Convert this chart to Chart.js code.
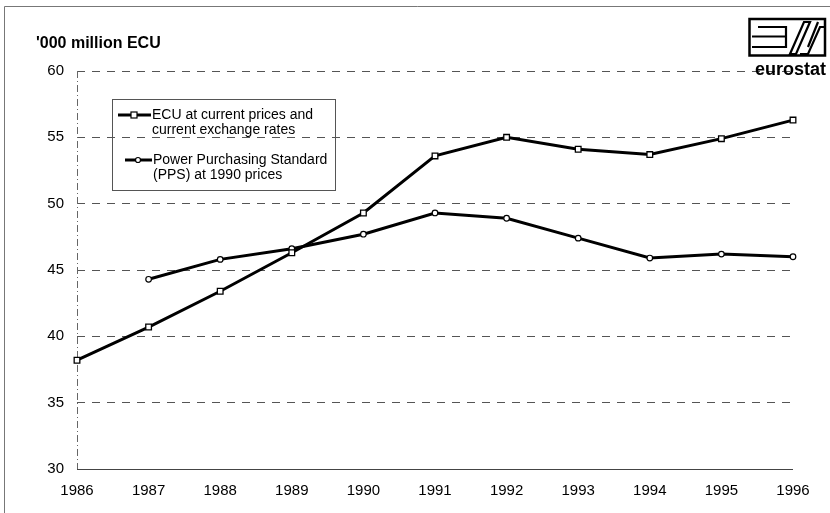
<!DOCTYPE html>
<html>
<head>
<meta charset="utf-8">
<script src="https://cdn.jsdelivr.net/npm/chart.js@4/dist/chart.umd.min.js"></script>
<style>
  html, body { margin: 0; padding: 0; background: #fff; }
  #wrap { position: relative; width: 830px; height: 513px; }
</style>
</head>
<body>
<div id="wrap"><canvas id="c" width="830" height="513"></canvas></div>
<script>
const years = ['1986','1987','1988','1989','1990','1991','1992','1993','1994','1995','1996'];
const ecuCurrent = [38.2, 40.7, 43.4, 46.3, 49.3, 53.6, 55.0, 54.1, 53.7, 54.9, 56.3];
const ppsConstant = [null, 44.3, 45.8, 46.6, 47.7, 49.3, 48.9, 47.4, 45.9, 46.2, 46.0];
const yTicks = [30, 35, 40, 45, 50, 55, 60];
const titleText = "'000 million ECU";
const legendLabels = [
  ['ECU at current prices and', 'current exchange rates'],
  ['Power Purchasing Standard', '(PPS) at 1990 prices']
];
const logoText = 'eurostat';

const FONT = '"Liberation Sans", Arial, sans-serif';

const extras = {
  id: 'extras',
  beforeDatasetsDraw(chart) {
    const ctx = chart.ctx;
    const a = chart.chartArea;
    ctx.save();
    ctx.strokeStyle = '#666';
    ctx.lineWidth = 1;
    ctx.setLineDash([7, 3, 1, 3]);
    ctx.beginPath();
    ctx.moveTo(a.left + 0.5, a.top);
    ctx.lineTo(a.left + 0.5, a.bottom);
    ctx.stroke();
    ctx.setLineDash([]);
    ctx.strokeStyle = '#444';
    ctx.beginPath();
    ctx.moveTo(a.left, a.bottom + 0.5);
    ctx.lineTo(a.right, a.bottom + 0.5);
    ctx.stroke();
    ctx.restore();
  },
  afterDraw(chart) {
    const ctx = chart.ctx;
    ctx.save();
    // outer frame (top & left)
    ctx.strokeStyle = '#777';
    ctx.lineWidth = 1;
    ctx.beginPath();
    ctx.moveTo(4.5, 513); ctx.lineTo(4.5, 6.5); ctx.lineTo(830, 6.5);
    ctx.stroke();

    // title
    ctx.fillStyle = '#000';
    ctx.font = 'bold 16px ' + FONT;
    ctx.textBaseline = 'middle';
    ctx.textAlign = 'left';
    ctx.fillText(titleText, 36, 44);

    // legend box
    ctx.strokeStyle = '#555';
    ctx.lineWidth = 1;
    ctx.strokeRect(112.5, 99.5, 223, 91);
    ctx.font = '14px ' + FONT;
    ctx.fillStyle = '#000';
    // entry 1
    ctx.strokeStyle = '#000';
    ctx.lineWidth = 3;
    ctx.beginPath(); ctx.moveTo(118, 115); ctx.lineTo(151, 115); ctx.stroke();
    ctx.fillStyle = '#fff'; ctx.lineWidth = 1.2;
    ctx.fillRect(131, 112, 6, 6); ctx.strokeRect(131, 112, 6, 6);
    ctx.fillStyle = '#000';
    ctx.fillText(legendLabels[0][0], 152, 115);
    ctx.fillText(legendLabels[0][1], 152, 130);
    // entry 2
    ctx.lineWidth = 3;
    ctx.beginPath(); ctx.moveTo(125, 160); ctx.lineTo(152, 160); ctx.stroke();
    ctx.fillStyle = '#fff'; ctx.lineWidth = 1.2;
    ctx.beginPath(); ctx.arc(138, 160, 2.5, 0, Math.PI * 2); ctx.fill(); ctx.stroke();
    ctx.fillStyle = '#000';
    ctx.fillText(legendLabels[1][0], 153, 160);
    ctx.fillText(legendLabels[1][1], 153, 175);

    // eurostat logo
    ctx.fillStyle = '#fff';
    ctx.fillRect(748, 17, 79, 40);
    ctx.strokeStyle = '#000';
    ctx.lineWidth = 2.5;
    ctx.strokeRect(749.5, 19, 75.5, 36.5);
    ctx.lineWidth = 2.2;
    ctx.beginPath();
    ctx.moveTo(758, 27); ctx.lineTo(786, 27); ctx.lineTo(786, 47); ctx.lineTo(752, 47);
    ctx.moveTo(752, 36.5); ctx.lineTo(786, 36.5);
    ctx.stroke();
    // slash
    ctx.beginPath();
    ctx.moveTo(790, 54); ctx.lineTo(796, 54); ctx.lineTo(810, 22); ctx.lineTo(804, 22); ctx.closePath();
    ctx.stroke();
    // stylised s
    ctx.beginPath();
    ctx.moveTo(800, 54); ctx.lineTo(808, 54); ctx.lineTo(820, 27); ctx.lineTo(824, 27);
    ctx.moveTo(808, 47); ctx.lineTo(818, 22);
    ctx.stroke();
    ctx.fillStyle = '#000';
    ctx.font = 'bold 18px ' + FONT;
    ctx.textAlign = 'right';
    ctx.textBaseline = 'alphabetic';
    ctx.fillText(logoText, 826, 75);
    ctx.restore();
  }
};

new Chart(document.getElementById('c'), {
  type: 'line',
  data: {
    labels: years,
    datasets: [
      {
        label: legendLabels[0].join(' '),
        data: ecuCurrent,
        borderColor: '#000',
        borderWidth: 3,
        pointStyle: 'rect',
        pointRadius: 4,
        pointBackgroundColor: '#fff',
        pointBorderColor: '#000',
        pointBorderWidth: 1.3,
        tension: 0
      },
      {
        label: legendLabels[1].join(' '),
        data: ppsConstant,
        borderColor: '#000',
        borderWidth: 3,
        pointStyle: 'circle',
        pointRadius: 2.8,
        pointBackgroundColor: '#fff',
        pointBorderColor: '#000',
        pointBorderWidth: 1.2,
        tension: 0,
        spanGaps: false
      }
    ]
  },
  options: {
    responsive: false,
    animation: false,
    layout: { padding: { top: 71, right: 37, left: 0, bottom: 0 } },
    plugins: { legend: { display: false }, tooltip: { enabled: false }, title: { display: false } },
    scales: {
      x: {
        offset: false,
        grid: { display: false, drawTicks: false },
        border: { display: false },
        ticks: { color: '#000', font: { family: FONT, size: 15 }, padding: 13, maxRotation: 0, autoSkip: false },
        afterFit(s) { s.height = 44; }
      },
      y: {
        min: 30, max: 60,
        afterBuildTicks(s) { s.ticks = yTicks.map(v => ({ value: v })); },
        grid: { color: '#555', lineWidth: 1, drawTicks: false },
        border: { display: false, dash: [8, 7] },
        ticks: { color: '#000', font: { family: FONT, size: 15 }, padding: 13 },
        afterFit(s) { s.width = 77; }
      }
    }
  },
  plugins: [extras]
});
</script>
</body>
</html>
